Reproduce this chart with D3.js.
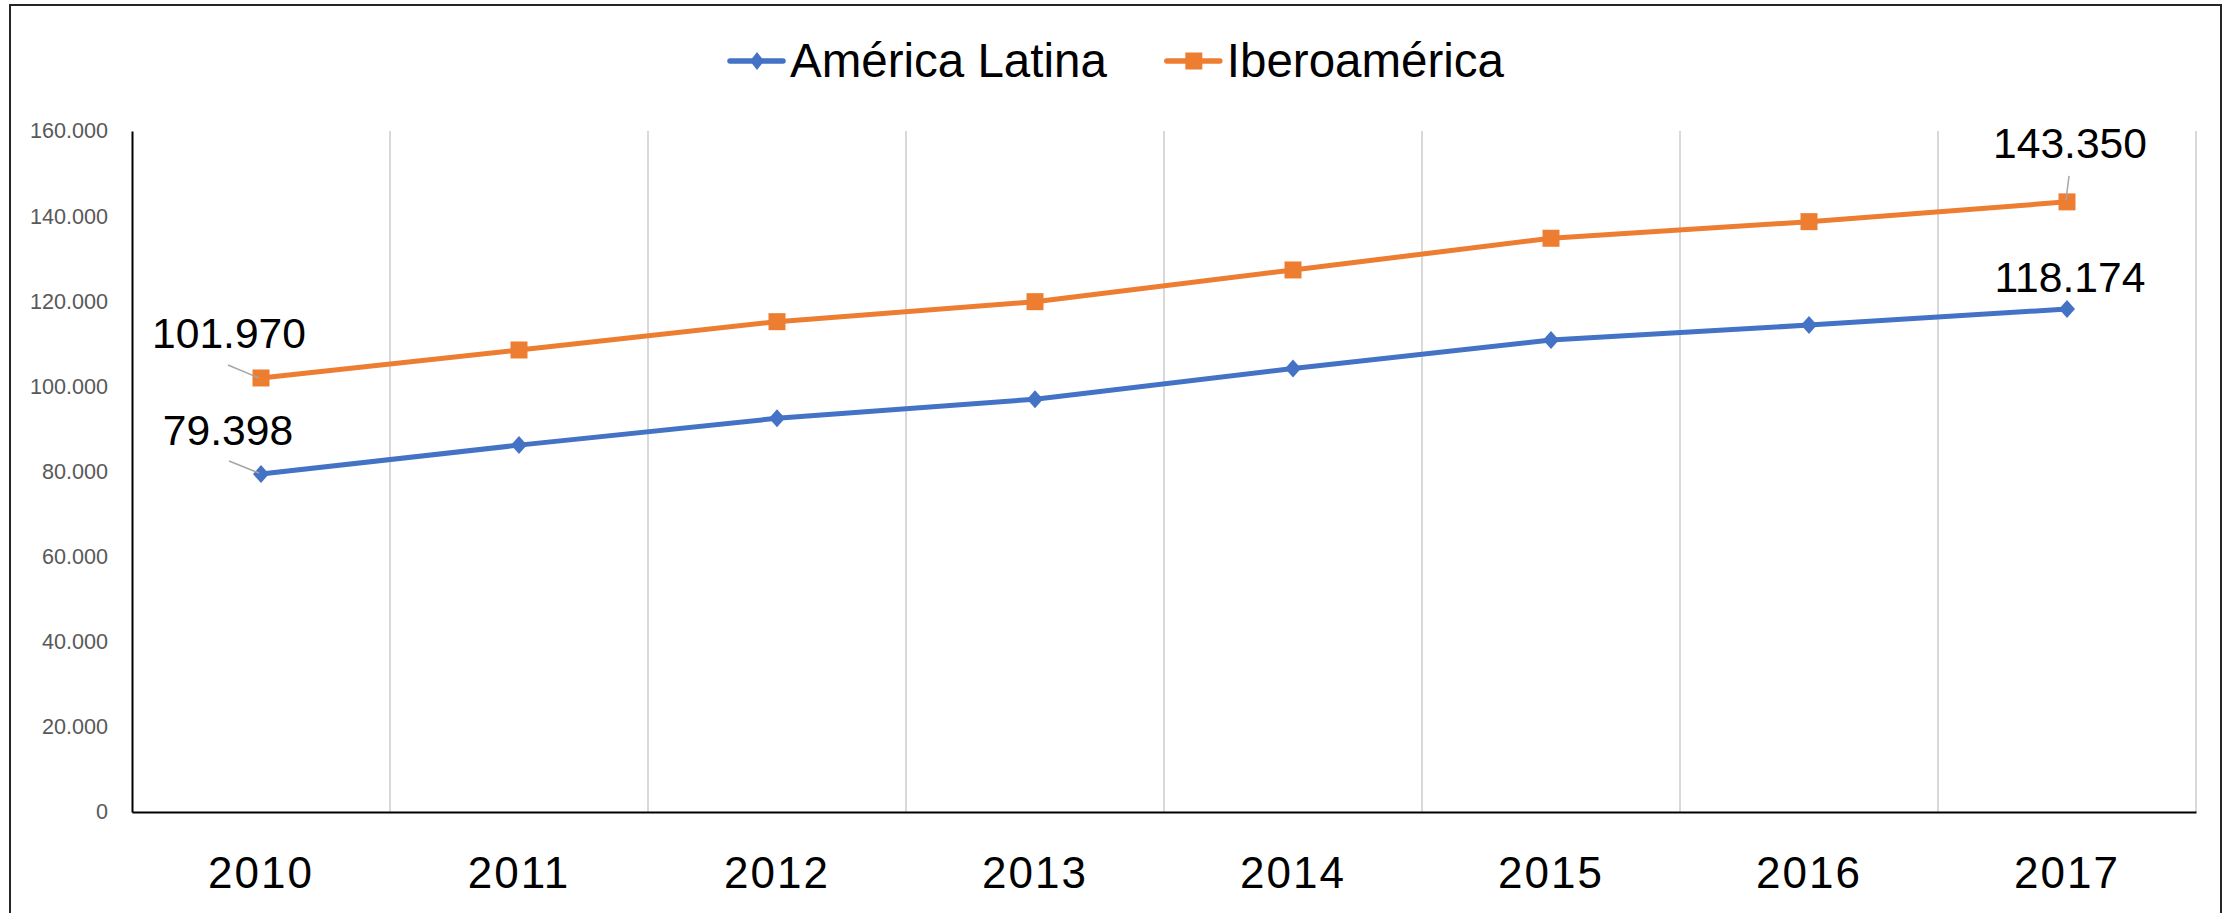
<!DOCTYPE html>
<html>
<head>
<meta charset="utf-8">
<script src="https://cdn.jsdelivr.net/npm/d3@7"></script>
<style>
  html, body { margin: 0; padding: 0; background: #fff; }
  svg { display: block; font-family: 'Liberation Sans', Arial, sans-serif; }
</style>
</head>
<body>
<div id="container"></div>
<script>
// datos
const years = ['2010', '2011', '2012', '2013', '2014', '2015', '2016', '2017'];
const americaLatina = [79398, 86200, 92500, 97000, 104200, 110900, 114400, 118174];
const iberoamerica = [101970, 108550, 115200, 119900, 127350, 134800, 138700, 143350];
const yTicks = [0, 20000, 40000, 60000, 80000, 100000, 120000, 140000, 160000];
const seriesNames = ['América Latina', 'Iberoamérica'];

const W = 2226, H = 913;
const margin = { left: 132, right: 2196, top: 131, bottom: 812 };

const locale = d3.formatLocale({ decimal: ',', thousands: '.', grouping: [3], currency: ['', ''] });
const fmt = locale.format(',.0f');

const series = [
	{ name: seriesNames[0], values: americaLatina, color: '#4472C4', marker: 'diamond' },
	{ name: seriesNames[1], values: iberoamerica, color: '#ED7D31', marker: 'square' },
];

const svg = d3.select('#container').append('svg')
	.attr('width', W)
	.attr('height', H);

// marco exterior
svg.append('rect')
	.attr('x', 10).attr('y', 5)
	.attr('width', 2211).attr('height', 1000)
	.attr('fill', 'none')
	.attr('stroke', '#262626')
	.attr('stroke-width', 2);

const x = d3.scaleBand().domain(years).range([margin.left, margin.right]);
const y = d3.scaleLinear().domain([0, 160000]).range([margin.bottom, margin.top]);

// lineas de cuadricula verticales (entre categorias)
svg.append('g')
	.selectAll('line')
	.data(years)
	.enter()
	.append('line')
	.attr('x1', d => x(d) + x.bandwidth())
	.attr('x2', d => x(d) + x.bandwidth())
	.attr('y1', margin.top)
	.attr('y2', margin.bottom)
	.attr('stroke', '#D9D9D9')
	.attr('stroke-width', 2);

// eje Y
const yAxis = svg.append('g')
	.attr('transform', `translate(${margin.left},0)`)
	.call(d3.axisLeft(y).tickValues(yTicks).tickSize(0).tickPadding(24).tickFormat(fmt));
yAxis.select('.domain').attr('stroke', '#000').attr('stroke-width', 2);
yAxis.selectAll('text')
	.style('font-family', "'Liberation Sans', Arial, sans-serif")
	.style('font-size', '21.6px')
	.attr('fill', '#595959');

// eje X
const xAxis = svg.append('g')
	.attr('transform', `translate(0,${margin.bottom})`)
	.call(d3.axisBottom(x).tickSize(0));
xAxis.select('.domain').attr('stroke', '#000').attr('stroke-width', 2);
xAxis.selectAll('text')
	.attr('y', 76)
	.attr('dy', 0)
	.style('font-family', "'Liberation Sans', Arial, sans-serif")
	.style('font-size', '44px')
	.style('letter-spacing', '2px')
	.attr('fill', '#000');

const cx = d => x(d) + x.bandwidth() / 2;

function markerPath(type, hw, hh) {
	if (type === 'diamond') return `M0,${-hh}L${hw},0L0,${hh}L${-hw},0Z`;
	return `M${-hw},${-hh}H${hw}V${hh}H${-hw}Z`;
}

const line = d3.line()
	.x((d, i) => cx(years[i]))
	.y(d => y(d));

series.forEach(s => {
	svg.append('path')
		.datum(s.values)
		.attr('d', line)
		.attr('fill', 'none')
		.attr('stroke', s.color)
		.attr('stroke-width', 5)
		.attr('stroke-linejoin', 'round')
		.attr('stroke-linecap', 'round');

	svg.append('g')
		.selectAll('path')
		.data(s.values)
		.enter()
		.append('path')
		.attr('transform', (d, i) => `translate(${cx(years[i])},${y(d)})`)
		.attr('d', s.marker === 'diamond' ? markerPath('diamond', 8, 9) : markerPath('square', 8.5, 8.5))
		.attr('fill', s.color);
});

// etiquetas de datos (primer y ultimo valor)
const labels = [
	{ s: 1, i: 0, dx: -32, dy: -30, leader: [[-33, -13], [-2, 0]] },
	{ s: 0, i: 0, dx: -33, dy: -29, leader: [[-32, -13], [-2, -1]] },
	{ s: 1, i: 7, dx: 3, dy: -44, leader: [[2, -26], [-1, -2]] },
	{ s: 0, i: 7, dx: 3, dy: -17, leader: null },
];

labels.forEach(l => {
	const v = series[l.s].values[l.i];
	const px = cx(years[l.i]);
	const py = y(v);
	if (l.leader) {
		svg.append('line')
			.attr('x1', px + l.leader[0][0]).attr('y1', py + l.leader[0][1])
			.attr('x2', px + l.leader[1][0]).attr('y2', py + l.leader[1][1])
			.attr('stroke', '#A6A6A6')
			.attr('stroke-width', 1.5);
	}
	svg.append('text')
		.attr('x', px + l.dx)
		.attr('y', py + l.dy)
		.attr('text-anchor', 'middle')
		.style('font-size', '42.6px')
		.attr('fill', '#000')
		.text(fmt(v));
});

// leyenda
const legend = svg.append('g');
let lx = 730;
series.forEach(s => {
	const g = legend.append('g').attr('transform', `translate(${lx},0)`);
	g.append('line')
		.attr('x1', 0).attr('x2', 53)
		.attr('y1', 61).attr('y2', 61)
		.attr('stroke', s.color)
		.attr('stroke-width', 5.5)
		.attr('stroke-linecap', 'round');
	g.append('path')
		.attr('transform', 'translate(27,61)')
		.attr('d', s.marker === 'diamond' ? markerPath('diamond', 7, 9) : markerPath('square', 8.5, 8.5))
		.attr('fill', s.color);
	const t = g.append('text')
		.attr('x', 60)
		.attr('y', 77)
		.style('font-size', '47.5px')
		.attr('fill', '#000')
		.text(s.name);
	lx += 60 + t.node().getComputedTextLength() + 60;
});
</script>
</body>
</html>
